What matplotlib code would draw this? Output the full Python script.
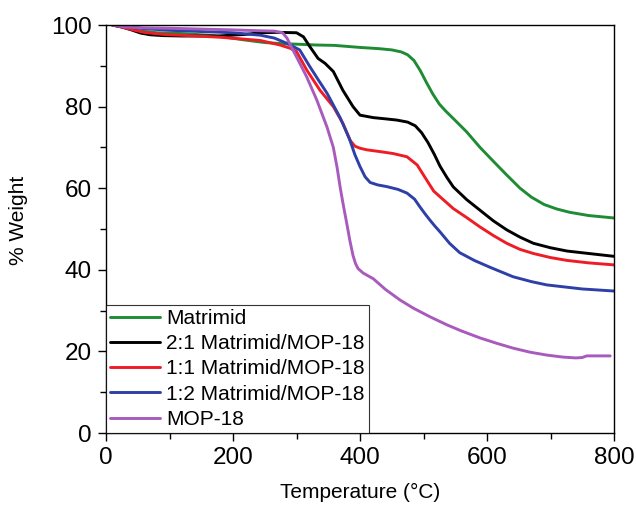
import matplotlib
matplotlib.use("Agg")
import matplotlib.pyplot as plt
from matplotlib.ticker import MultipleLocator

plt.rcParams['font.family'] = ['Liberation Sans', 'DejaVu Sans']

labels = ["Matrimid", "2:1 Matrimid/MOP-18", "1:1 Matrimid/MOP-18",
          "1:2 Matrimid/MOP-18", "MOP-18"]
colors = ["#1e8c34", "#000000", "#ee1c25", "#2e3fa8", "#a85bbd"]

t_matrimid = [10, 30, 50, 80, 120, 170, 220, 250, 280, 300, 330, 360, 400, 430, 450, 465,
              475, 485, 495, 505, 515, 525, 535, 550, 568, 589, 610, 630, 652, 670, 690,
              710, 730, 760, 800]
w_matrimid = [100, 99.4, 98.6, 98.1, 97.9, 97.4, 96.3, 95.7, 95.4, 95.3, 95.1, 95.0, 94.5,
              94.2, 93.9, 93.4, 92.7, 91.3, 88.8, 85.8, 83.0, 80.6, 78.9, 76.6, 73.8, 70.0,
              66.6, 63.4, 60.0, 57.8, 56.0, 54.9, 54.1, 53.3, 52.7]

t_21 = [10, 25, 40, 55, 70, 90, 120, 175, 220, 243, 270, 300, 311, 321, 334, 345, 358,
        373, 389, 400, 421, 440, 458, 475, 487, 497, 507, 517, 526, 537, 547, 568, 589,
        610, 631, 652, 673, 700, 726, 760, 800]
w_21 = [100, 99.5, 98.8, 98.0, 97.6, 97.4, 97.3, 97.3, 97.7, 98.1, 98.2, 98.1, 97.1, 94.7,
        91.8, 90.6, 88.6, 84.0, 80.0, 77.9, 77.3, 77.0, 76.7, 76.2, 75.3, 73.6, 71.2, 68.3,
        65.4, 62.6, 60.3, 57.2, 54.6, 52.0, 49.8, 48.0, 46.5, 45.4, 44.6, 44.0, 43.3]

t_11 = [10, 25, 40, 60, 90, 130, 180, 220, 243, 274, 290, 300, 316, 337, 358, 373, 385,
        392, 400, 411, 430, 452, 474, 490, 505, 516, 526, 547, 568, 589, 610, 631, 652,
        673, 700, 726, 760, 800]
w_11 = [100, 99.5, 98.9, 98.2, 97.7, 97.4, 97.0, 96.5, 96.2, 95.1, 94.3, 93.5, 89.0, 84.0,
        80.0, 75.9, 71.6, 70.3, 69.8, 69.4, 69.0, 68.5, 67.7, 65.7, 62.0, 59.3, 57.9, 55.0,
        52.8, 50.5, 48.4, 46.5, 45.0, 44.0, 43.0, 42.3, 41.7, 41.2]

t_12 = [10, 30, 60, 100, 150, 200, 243, 265, 285, 305, 321, 335, 348, 360, 369, 378, 384,
        392, 400, 408, 416, 428, 442, 460, 474, 486, 494, 502, 510, 518, 526, 541, 557,
        580, 605, 641, 670, 694, 750, 800]
w_12 = [100, 99.6, 99.1, 98.7, 98.4, 98.1, 97.5, 96.8, 95.5, 93.9, 89.8, 86.4, 83.3, 79.8,
        77.2, 74.0, 71.8, 68.2, 65.3, 62.8, 61.4, 60.8, 60.4, 59.7, 58.8, 57.3, 55.5, 53.8,
        52.2, 50.7, 49.3, 46.5, 44.2, 42.3, 40.6, 38.3, 37.1, 36.3, 35.3, 34.8]

t_mop = [10, 30, 60, 100, 150, 200, 240, 265, 278, 285, 292, 300, 316, 332, 348, 358, 364,
         369, 374, 379, 384, 389, 393, 397, 405, 421, 440, 463, 484, 510, 537, 560, 589,
         615, 641, 668, 694, 720, 740, 750, 757, 770, 794]
w_mop = [100, 99.5, 99.3, 99.2, 99.0, 98.8, 98.6, 98.5, 98.1, 96.8, 94.6, 92.2, 87.3, 81.6,
         75.0, 70.0, 65.0, 60.0, 55.6, 51.5, 47.2, 43.5, 41.5, 40.3, 39.2, 37.8, 35.2, 32.6,
         30.6, 28.5, 26.5, 25.0, 23.3, 22.0, 20.8, 19.8, 19.1, 18.6, 18.4, 18.5, 18.9,
         18.9, 18.9]

series_t = [t_matrimid, t_21, t_11, t_12, t_mop]
series_w = [w_matrimid, w_21, w_11, w_12, w_mop]

fig = plt.figure(figsize=(6.36, 5.09), dpi=100)
ax = fig.add_axes([106/636, 1 - 433/509, (614-106)/636, (433-25)/509])

for t, w, c, lab in zip(series_t, series_w, colors, labels):
    ax.plot(t, w, color=c, lw=2.1, label=lab, solid_joinstyle='round',
            solid_capstyle='round')

ax.set_xlim(0, 800)
ax.set_ylim(0, 100)
ax.xaxis.set_major_locator(MultipleLocator(200))
ax.xaxis.set_minor_locator(MultipleLocator(100))
ax.yaxis.set_major_locator(MultipleLocator(20))
ax.yaxis.set_minor_locator(MultipleLocator(10))
ax.tick_params(which='major', direction='out', length=6, width=1, labelsize=17.5,
               top=False, right=False, pad=4)
ax.tick_params(which='minor', direction='out', length=4, width=1, top=False, right=False)
for s in ax.spines.values():
    s.set_linewidth(1.0)

ax.set_xlabel("Temperature (\u00b0C)", fontsize=15, labelpad=10)
ax.set_ylabel("% Weight", fontsize=15)
ax.yaxis.set_label_coords(-0.153, 0.522)

leg = ax.legend(loc='lower left', bbox_to_anchor=(0, 0), borderaxespad=0,
                fontsize=15, frameon=True, fancybox=False, edgecolor='black',
                handlelength=2.4, handletextpad=0.3, labelspacing=0.3,
                borderpad=0.2)
leg.get_frame().set_linewidth(0.8)

fig.savefig("out.png", dpi=100)
